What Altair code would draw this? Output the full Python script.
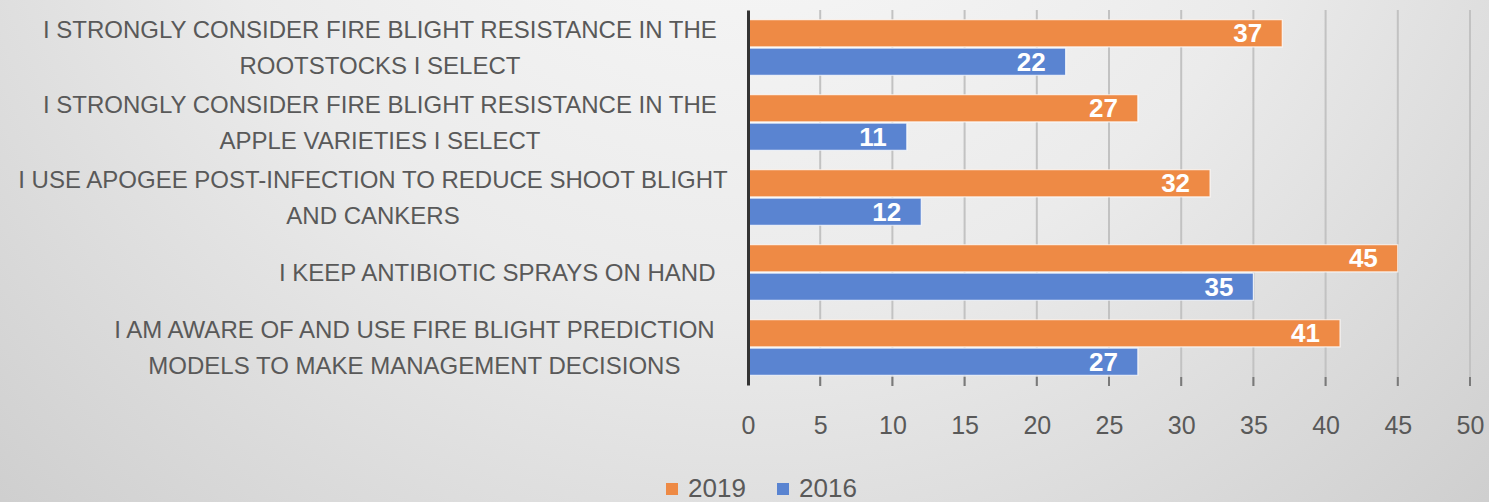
import altair as alt
import pandas as pd

categories = [
    "I STRONGLY CONSIDER FIRE BLIGHT RESISTANCE IN THE|ROOTSTOCKS I SELECT",
    "I STRONGLY CONSIDER FIRE BLIGHT RESISTANCE IN THE|APPLE VARIETIES I SELECT",
    "I USE APOGEE POST-INFECTION TO REDUCE SHOOT BLIGHT|AND CANKERS",
    "I KEEP ANTIBIOTIC SPRAYS ON HAND",
    "I AM AWARE OF AND USE FIRE BLIGHT PREDICTION|MODELS TO MAKE MANAGEMENT DECISIONS",
]
values_2019 = [37, 27, 32, 45, 41]
values_2016 = [22, 11, 12, 35, 27]
years = ["2019", "2016"]
x_ticks = [0, 5, 10, 15, 20, 25, 30, 35, 40, 45, 50]

rows = []
for c, a, b in zip(categories, values_2019, values_2016):
    rows.append({"cat": c, "year": "2019", "value": a})
    rows.append({"cat": c, "year": "2016", "value": b})
df = pd.DataFrame(rows)
labels_df = pd.DataFrame({"cat": categories})
grid_df = pd.DataFrame({"t": x_ticks[1:]})

FONT = "Liberation Sans, Arial, sans-serif"
CHAR_W = 13.8
LINE_H = 36

ysc = alt.Scale(domain=categories, paddingInner=0.26, paddingOuter=0.13)
xsc = alt.Scale(domain=[0, 50], nice=False)
color_scale = alt.Scale(domain=years, range=["#EE8A45", "#5A84D1"])
yoff = alt.YOffset("year:N", sort=years, scale=alt.Scale(domain=years, paddingInner=0.04))

bg = alt.Chart(alt.Data(values=[{}])).mark_rect(
    color=alt.RadialGradient(
        gradient="radial",
        x1=0.5, y1=0.15, r1=0.0,
        x2=0.5, y2=0.15, r2=0.85,
        stops=[
            alt.GradientStop(color="#fbfbfb", offset=0),
            alt.GradientStop(color="#ebebeb", offset=0.45),
            alt.GradientStop(color="#c4c4c4", offset=1),
        ],
    )
).encode(
    x=alt.value(-748), x2=alt.value(741), y=alt.value(-10), y2=alt.value(492)
)

grid = alt.Chart(grid_df).mark_rule(color="#c2c2c2", strokeWidth=2).encode(
    x=alt.X("t:Q", scale=xsc),
    y=alt.value(0), y2=alt.value(376),
)

ticks = alt.Chart(grid_df).mark_rule(color="#7a7a7a", strokeWidth=2).encode(
    x=alt.X("t:Q", scale=xsc),
    y=alt.value(367), y2=alt.value(376),
)

bars = alt.Chart(df).mark_bar(stroke="white", strokeWidth=1.2, strokeOpacity=0.8).encode(
    y=alt.Y("cat:N", sort=categories, scale=ysc,
            axis=alt.Axis(title=None, labels=False, ticks=False, domain=True,
                          domainColor="#333333", domainWidth=3, grid=False, zindex=2)),
    yOffset=yoff,
    x=alt.X("value:Q", scale=xsc,
            axis=alt.Axis(title=None, values=x_ticks, grid=False, domain=False, ticks=False,
                          labelFont=FONT, labelFontSize=25, labelColor="#595959",
                          labelPadding=28, labelFlush=False, labelOverlap=False, zindex=2)),
    color=alt.Color("year:N", sort=years, scale=color_scale,
                    legend=alt.Legend(title=None, orient="none", legendX=-89, legendY=466,
                                      direction="horizontal", symbolType="square",
                                      symbolSize=144, symbolStrokeWidth=0,
                                      labelFont=FONT, labelFontSize=26,
                                      labelColor="#595959", columnPadding=24,
                                      labelOffset=3, zindex=2)),
)

vals = alt.Chart(df).mark_text(
    align="right", baseline="middle", dx=-20, dy=1, color="white",
    font=FONT, fontSize=26, fontWeight="bold"
).encode(
    y=alt.Y("cat:N", sort=categories, scale=ysc),
    yOffset=yoff,
    x=alt.X("value:Q", scale=xsc),
    text=alt.Text("value:Q"),
)

cat_text = alt.Chart(labels_df).transform_calculate(
    lines="split(datum.cat, '|')"
).transform_calculate(
    cx=f"-30 - length(datum.lines[0]) * {CHAR_W} / 2"
).mark_text(
    align="center", baseline="middle", font=FONT, fontSize=24, color="#595959",
    lineHeight=LINE_H,
    dy=alt.ExprRef(f"1 - (length(datum.lines) - 1) * {LINE_H} / 2"),
).encode(
    y=alt.Y("cat:N", sort=categories, scale=ysc),
    x=alt.X("cx:Q", scale=None),
    text=alt.Text("lines:N"),
)

chart = alt.layer(bg, grid, ticks, bars, vals, cat_text).properties(
    width=722, height=375,
    autosize=alt.AutoSizeParams(type="none"),
    padding={"left": 748, "top": 10, "right": 19, "bottom": 117},
    background="#d4d4d4",
).configure_view(stroke=None)

chart.save("out.html", embed_options={"renderer": "svg", "actions": False})
